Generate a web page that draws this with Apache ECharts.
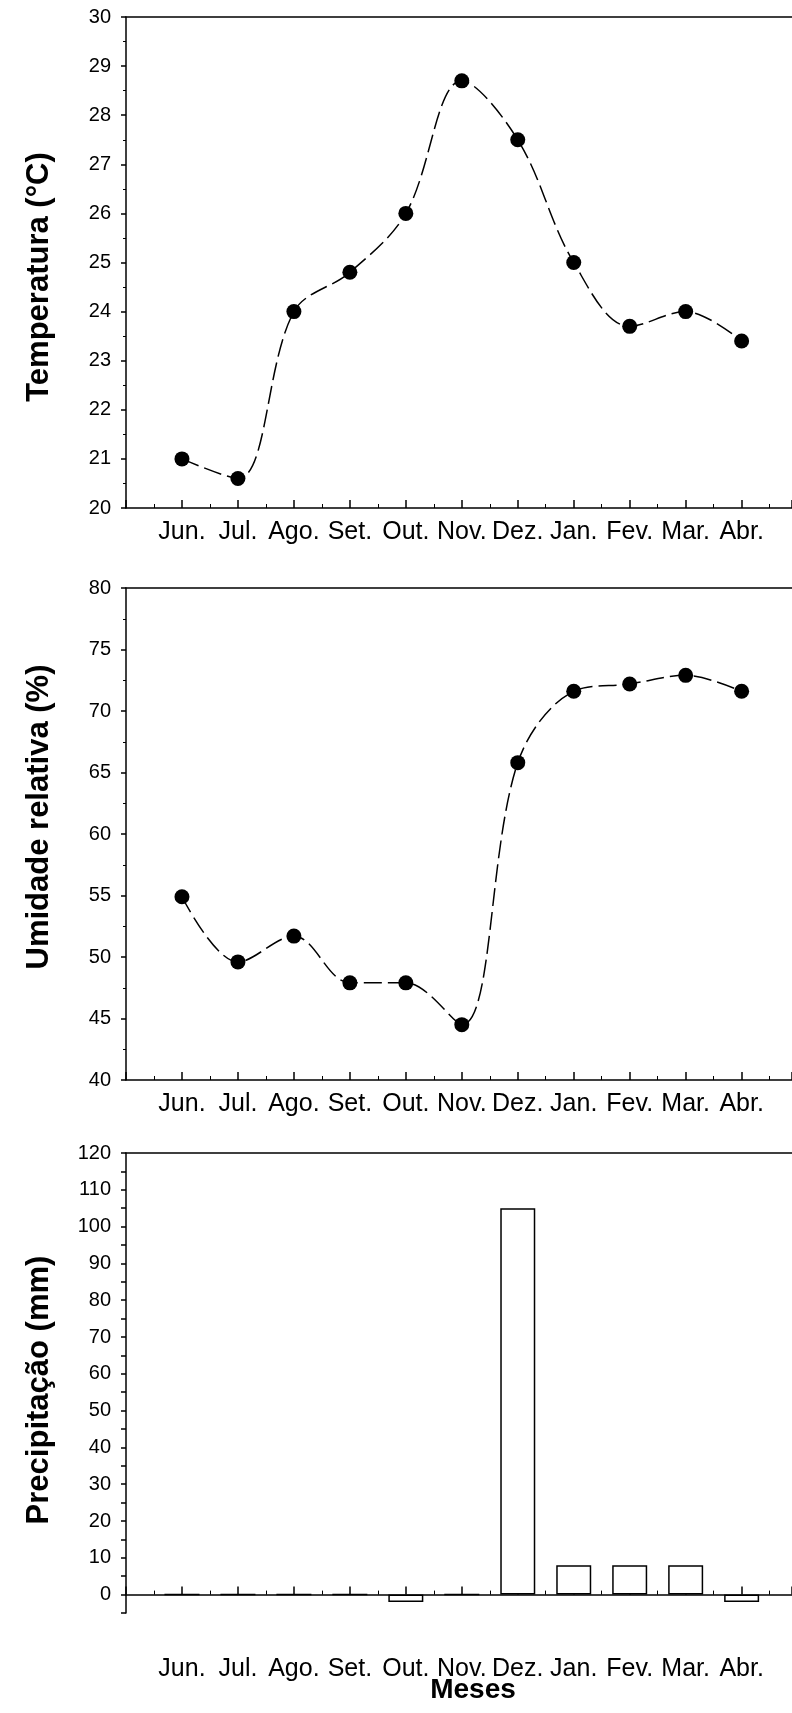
<!DOCTYPE html>
<html>
<head>
<meta charset="utf-8">
<script src="https://cdn.jsdelivr.net/npm/echarts@6/dist/echarts.min.js"></script>
<style>
html,body{margin:0;padding:0;background:#fff;}
#chart{width:792px;height:1713px;}
</style>
</head>
<body>
<div id="chart"></div>
<script>
// ---- data ----
const months = ['Jun.','Jul.','Ago.','Set.','Out.','Nov.','Dez.','Jan.','Fev.','Mar.','Abr.'];
const temperatura = [21.0, 20.6, 24.0, 24.8, 26.0, 28.7, 27.5, 25.0, 23.7, 24.0, 23.4];
const umidade = [54.9, 49.6, 51.7, 47.9, 47.9, 44.5, 65.8, 71.6, 72.2, 72.9, 71.6];
const precipitacao = [0, 0, 0, 0, -2, 0, 105, 8, 8, 8, -2];
const yTitles = ['Temperatura (°C)', 'Umidade relativa (%)', 'Precipitação (mm)'];
const xTitle = 'Meses';

const FONT = '"Liberation Sans", Arial, sans-serif';
const XMAX = 11.9;
const pts = arr => arr.map((v, i) => [i + 1, v]);
const monthFmt = v => (Number.isInteger(v) && v >= 1 && v <= months.length) ? months[v - 1] : '';

const grids = [
  {left: 126, right: 0, top: 17, height: 491},
  {left: 126, right: 0, top: 588, height: 492},
  {left: 126, right: 0, top: 1153, height: 460}
];

function bottomX(i, margin) {
  return {
    type: 'value', gridIndex: i, position: 'bottom', min: 0, max: XMAX, interval: 1,
    axisLine: {show: true, onZero: true, lineStyle: {color: '#000', width: 1.5}},
    axisTick: {show: true, inside: true, length: 8, lineStyle: {color: '#000', width: 1.5}},
    minorTick: {show: true, splitNumber: 2, length: 4, lineStyle: {color: '#000'}},
    splitLine: {show: false},
    axisLabel: {show: true, formatter: monthFmt, fontFamily: FONT, fontSize: 25, color: '#000',
      margin: margin, showMaxLabel: false, showMinLabel: false}
  };
}
function topX(i) {
  return {
    type: 'value', gridIndex: i, position: 'top', min: 0, max: XMAX,
    axisLine: {show: true, onZero: false, lineStyle: {color: '#000', width: 1.5}},
    axisTick: {show: false}, axisLabel: {show: false}, splitLine: {show: false}
  };
}
function leftY(i, min, max, interval, labelStep, minor) {
  return {
    type: 'value', gridIndex: i, min: min, max: max, interval: interval,
    axisLine: {show: true, onZero: false, lineStyle: {color: '#000', width: 1.5}},
    axisTick: {show: true, inside: false, length: 5, lineStyle: {color: '#000', width: 1.5}},
    minorTick: {show: minor, splitNumber: 2, length: 3, lineStyle: {color: '#000'}},
    splitLine: {show: false},
    axisLabel: {fontFamily: FONT, fontSize: 20, color: '#000', margin: 15,
      formatter: v => (v >= 0 && Math.abs(v % labelStep) < 1e-9) ? String(v) : ''}
  };
}

const lineStyle = {color: '#000', width: 1.5, type: [18, 6]};
const titleFont = 'bold 31px ' + FONT;

const option = {
  backgroundColor: '#fff',
  animation: false,
  grid: grids,
  xAxis: [bottomX(0, 12), bottomX(1, 12), bottomX(2, 44), topX(0), topX(1), topX(2)],
  yAxis: [
    leftY(0, 20, 30, 1, 1, true),
    leftY(1, 40, 80, 5, 5, true),
    leftY(2, -5, 120, 5, 10, false)
  ],
  graphic: [
    {type: 'text', x: 39, y: 277, rotation: Math.PI / 2,
     style: {text: yTitles[0], font: titleFont, fill: '#000', align: 'center', verticalAlign: 'middle'}},
    {type: 'text', x: 39, y: 817, rotation: Math.PI / 2,
     style: {text: yTitles[1], font: titleFont, fill: '#000', align: 'center', verticalAlign: 'middle'}},
    {type: 'text', x: 39, y: 1390, rotation: Math.PI / 2,
     style: {text: yTitles[2], font: titleFont, fill: '#000', align: 'center', verticalAlign: 'middle'}},
    {type: 'text', x: 473, y: 1690,
     style: {text: xTitle, font: 'bold 28px ' + FONT, fill: '#000', align: 'center', verticalAlign: 'middle'}}
  ],
  series: [
    {type: 'line', xAxisIndex: 0, yAxisIndex: 0, data: pts(temperatura), smooth: 0.35,
     symbol: 'circle', symbolSize: 15, itemStyle: {color: '#000'}, lineStyle: lineStyle},
    {type: 'line', xAxisIndex: 1, yAxisIndex: 1, data: pts(umidade), smooth: 0.35,
     symbol: 'circle', symbolSize: 15, itemStyle: {color: '#000'}, lineStyle: lineStyle},
    {type: 'bar', xAxisIndex: 2, yAxisIndex: 2, data: pts(precipitacao), barWidth: 35,
     itemStyle: {color: '#fff', borderColor: '#000', borderWidth: 1.5}}
  ]
};

const chart = echarts.init(document.getElementById('chart'), null, {renderer: 'canvas'});
chart.setOption(option);
</script>
</body>
</html>
